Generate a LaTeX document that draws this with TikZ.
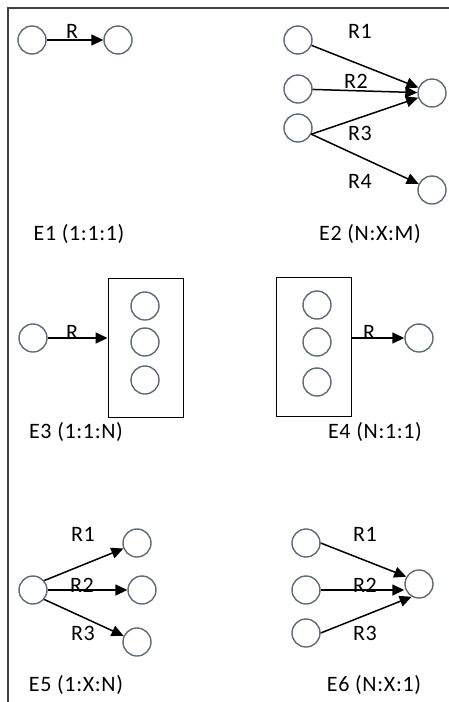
\documentclass[tikz,border=0pt]{standalone}
\usepackage{fontspec}
\setmainfont{Carlito}
\usetikzlibrary{arrows.meta}
\definecolor{circ}{HTML}{5E6A78}
\definecolor{frame}{HTML}{404040}
\begin{document}
\begin{tikzpicture}[x=1pt,y=-1pt,
  ent/.style={circle,draw=circ,line width=1.4pt,minimum size=28pt,inner sep=0pt},
  grp/.style={draw=black,line width=0.9pt,minimum width=75pt,minimum height=139pt,inner sep=0pt},
  rel/.style={draw=black,line width=1.5pt,-{Triangle[length=12pt,width=11pt]}},
  lbl/.style={font=\fontsize{22}{26}\selectfont\addfontfeature{LetterSpace=3},anchor=base,inner sep=0pt,text=black},
]
\useasboundingbox (0,0) rectangle (449,702);
% frame
\draw[frame,line width=1.6pt] (8,702) -- (8,8) -- (449,8);

% E1
\node[ent] (a1) at (32,40) {};
\node[ent] (b1) at (118,40) {};
\draw[rel] (a1) -- (b1);
\node[lbl] (r1) at (72,38) {R};
\node[lbl] (e1) at (79,240) {E1 (1:1:1)};

% E2
\node[ent] (l21) at (298,40) {};
\node[ent] (l22) at (298,89) {};
\node[ent] (l23) at (298,128) {};
\node[ent] (r21) at (432,93) {};
\node[ent] (r22) at (432,190) {};
\draw[rel] (l21) -- (r21);
\draw[rel] (l22) -- (r21);
\draw[rel] (l23.-25) -- (r21);
\draw[rel] (l23.-25) -- (r22);
\node[lbl] (t21) at (360,38) {R1};
\node[lbl] (t22) at (356,88) {R2};
\node[lbl] (t23) at (360,140) {R3};
\node[lbl] (t24) at (360,188) {R4};
\node[lbl] (e2) at (370,240) {E2 (N:X:M)};

% E3
\node[ent] (a3) at (33,338) {};
\node[grp] (g3) at (145.5,347.5) {};
\node[ent] (g31) at (145,306) {};
\node[ent] (g32) at (145,342) {};
\node[ent] (g33) at (145,380) {};
\draw[rel] (a3) -- (a3 -| g3.west);
\node[lbl] (t3) at (72,339) {R};
\node[lbl] (e3) at (76,438) {E3 (1:1:N)};

% E4
\node[grp] (g4) at (313.5,347) {};
\node[ent] (g41) at (317,305) {};
\node[ent] (g42) at (317,342) {};
\node[ent] (g43) at (317,382) {};
\node[ent] (b4) at (419,338) {};
\draw[rel] (g4.east |- b4) -- (b4);
\node[lbl] (t4) at (369,339) {R};
\node[lbl] (e4) at (375,438) {E4 (N:1:1)};

% E5
\node[ent] (c5) at (33,590) {};
\node[ent] (t5) at (137,543) {};
\node[ent] (m5) at (142,590) {};
\node[ent] (b5) at (137,642) {};
\draw[rel] (c5.40) -- (t5);
\draw[rel] (c5) -- (m5);
\draw[rel] (c5.-40) -- (b5);
\node[lbl] (t51) at (83,541) {R1};
\node[lbl] (t52) at (82,592) {R2};
\node[lbl] (t53) at (83,640) {R3};
\node[lbl] (e5) at (76,691) {E5 (1:X:N)};

% E6
\node[ent] (l61) at (306,543) {};
\node[ent] (l62) at (306,590) {};
\node[ent] (l63) at (306,633) {};
\node[ent] (r6) at (419,584) {};
\draw[rel] (l61.east) -- (r6.150);
\draw[rel] (l62.east) -- (l62.east -| r6.west);
\draw[rel] (l63.east) -- (r6.240);
\node[lbl] (t61) at (365,541) {R1};
\node[lbl] (t62) at (365,592) {R2};
\node[lbl] (t63) at (365,640) {R3};
\node[lbl] (e6) at (374,691) {E6 (N:X:1)};
\end{tikzpicture}
\end{document}
